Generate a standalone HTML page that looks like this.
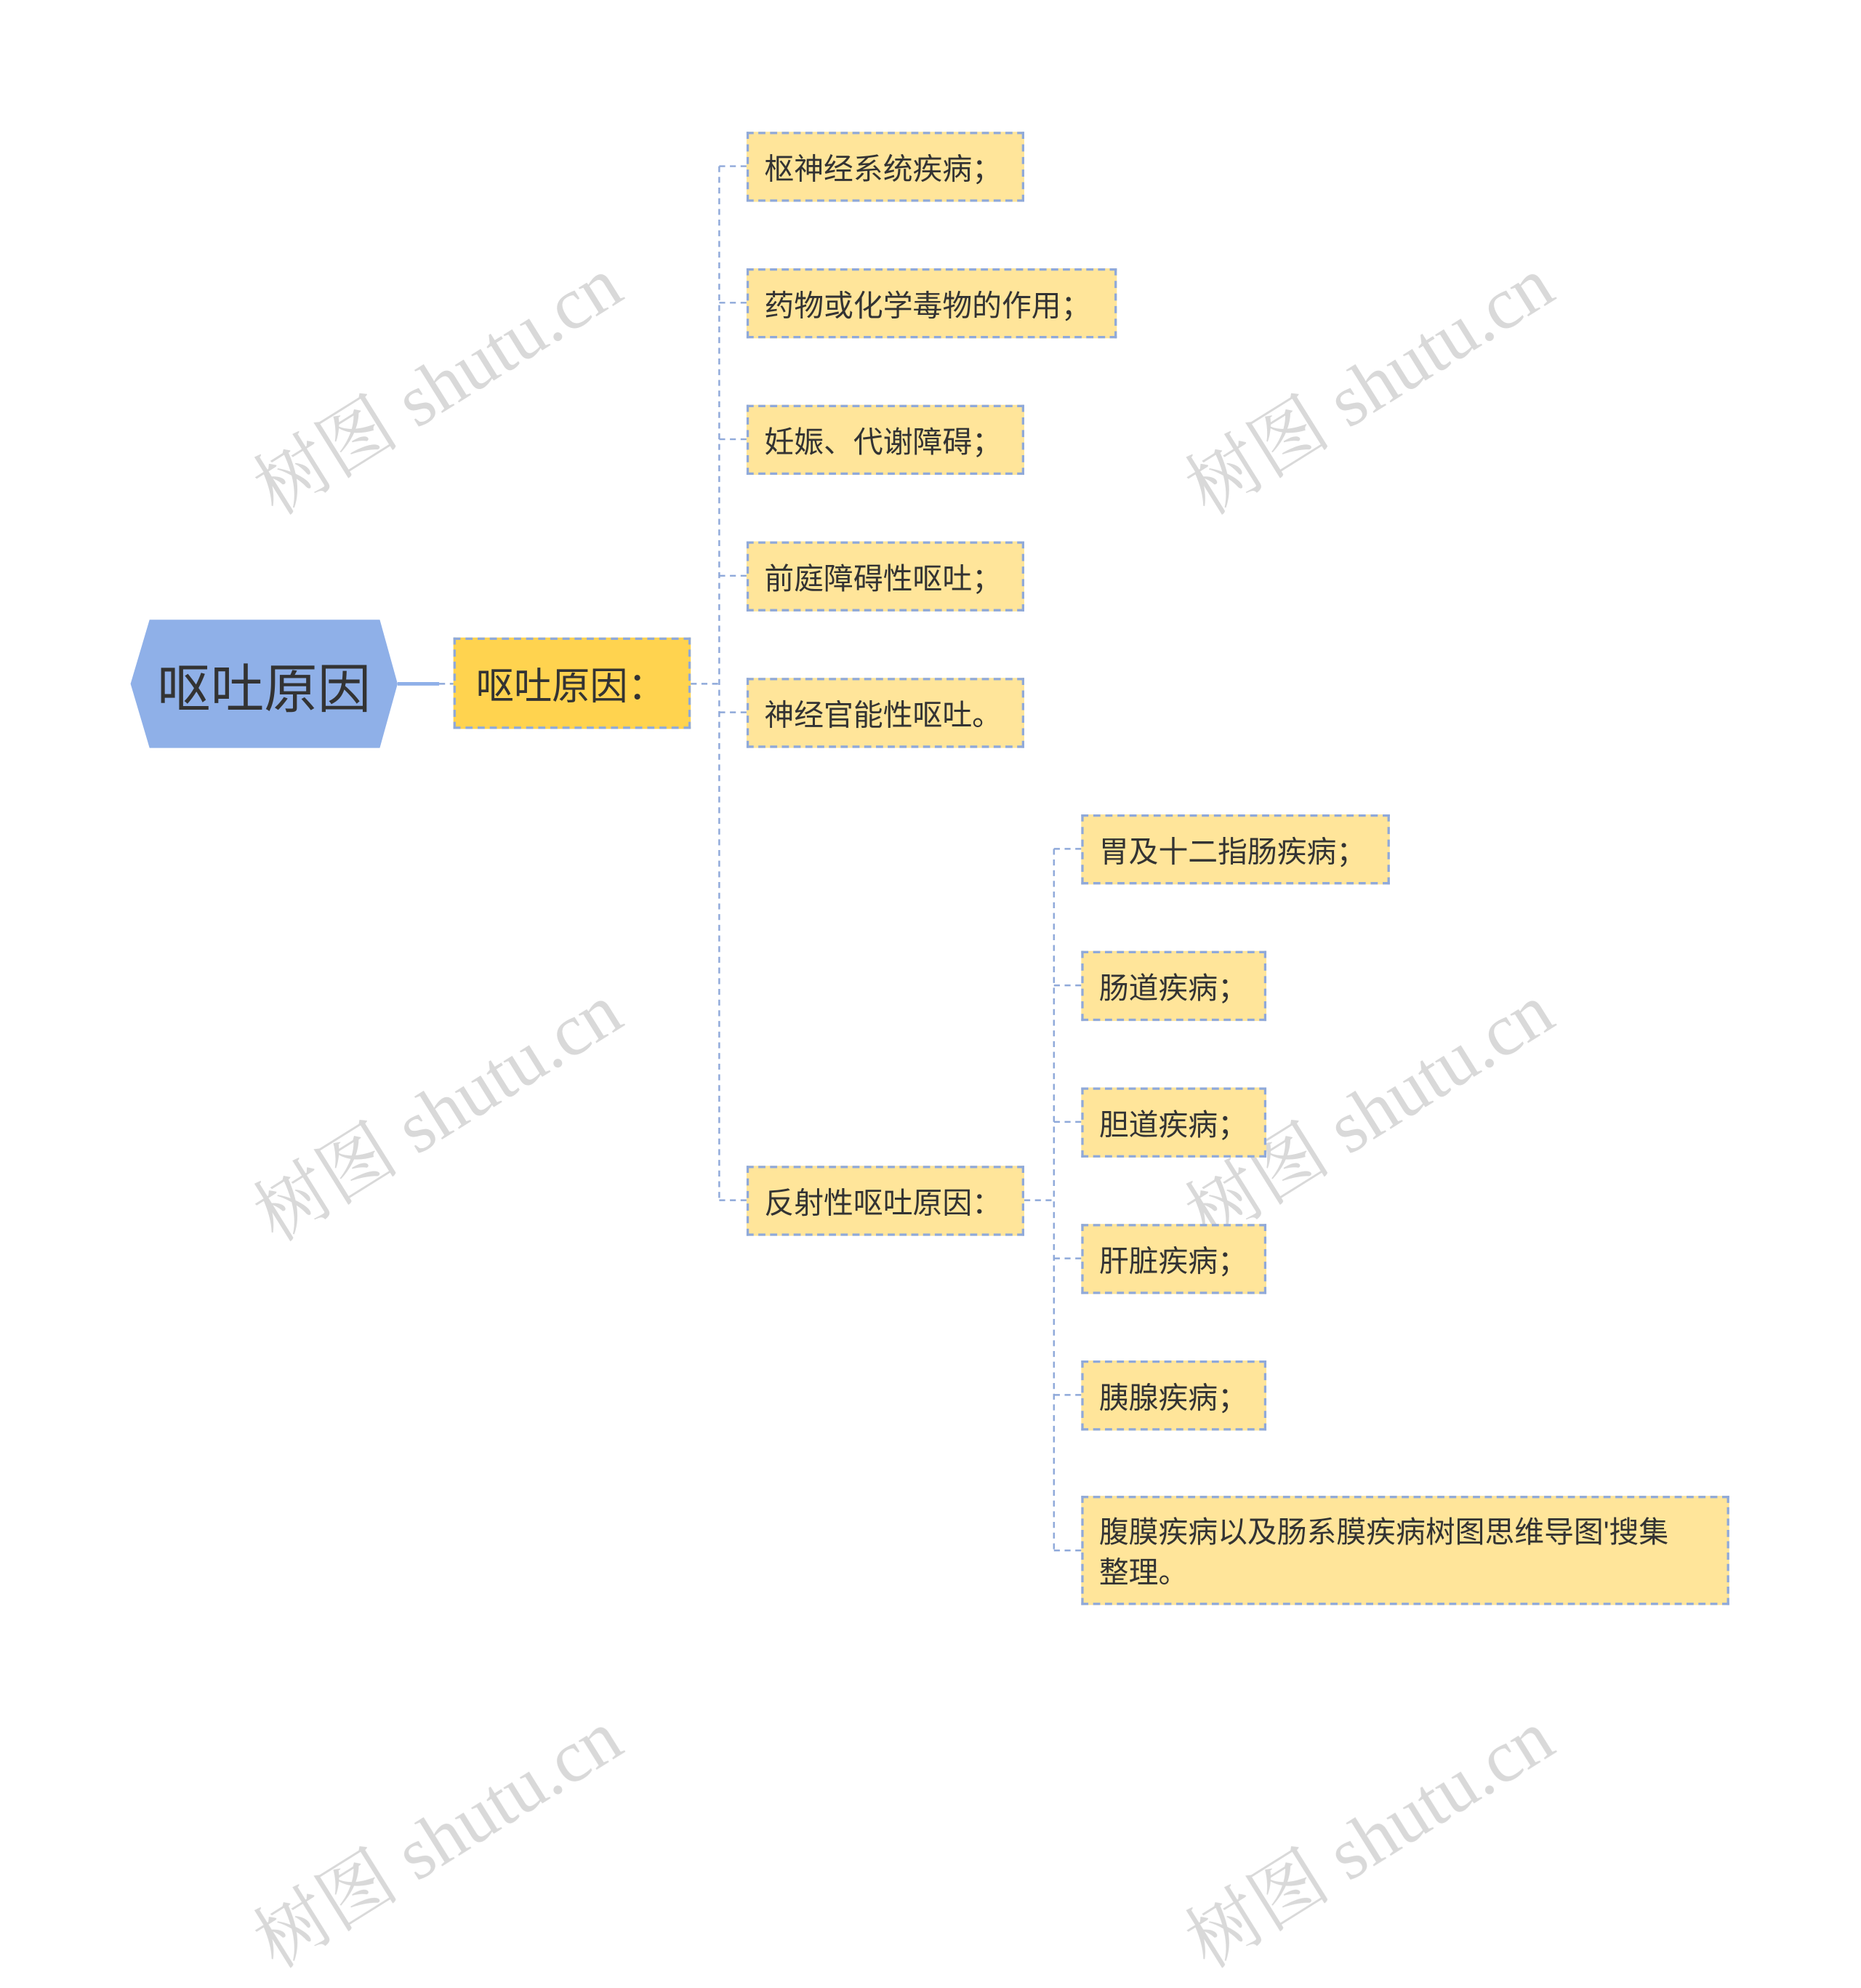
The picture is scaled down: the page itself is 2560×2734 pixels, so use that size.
<!DOCTYPE html>
<html><head><meta charset="utf-8"><style>
html,body{margin:0;padding:0;background:#fff;}
body{width:2560px;height:2391px;overflow:hidden;position:relative;}
#s{position:absolute;left:0;top:0;width:1568px;height:1464px;transform:scale(1.63265);transform-origin:0 0;font-family:"Liberation Sans","Noto Sans CJK SC",sans-serif;}
.n{position:absolute;box-sizing:border-box;background:#ffe59a;border:2px dashed #8fa9da;color:#333;font-size:25px;padding-left:13px;padding-top:4px;display:flex;align-items:center;line-height:34px;}
.wm{position:absolute;color:#d9d9d9;font-size:62px;font-family:"Liberation Serif","Noto Serif CJK SC",serif;transform:rotate(-32deg);transform-origin:0 0;white-space:nowrap;}
</style></head><body><div id="s">
<div class="wm" style="left:195px;top:375px">树图 shutu.cn</div>
<div class="wm" style="left:980px;top:375px">树图 shutu.cn</div>
<div class="wm" style="left:195px;top:987px">树图 shutu.cn</div>
<div class="wm" style="left:980px;top:987px">树图 shutu.cn</div>
<div class="wm" style="left:195px;top:1599px">树图 shutu.cn</div>
<div class="wm" style="left:980px;top:1599px">树图 shutu.cn</div>

<svg style="position:absolute;left:0;top:0" width="1568" height="1464">
<polygon points="126,522 320,522 335,576 320,630 126,630 110,576" fill="#8fb0e8"/>
<line x1="335" y1="576" x2="370" y2="576" stroke="#8fb0e8" stroke-width="3"/>
<line x1="370" y1="576" x2="382" y2="576" stroke="#8fa9da" stroke-width="1.5" stroke-dasharray="5,4"/>
<g stroke="#8fa9da" stroke-width="1.5" stroke-dasharray="5,4" fill="none">
<line x1="582" y1="576" x2="606" y2="576"/>
<line x1="606" y1="140" x2="606" y2="1011"/>
<line x1="606" y1="140" x2="629" y2="140"/>
<line x1="606" y1="255" x2="629" y2="255"/>
<line x1="606" y1="370" x2="629" y2="370"/>
<line x1="606" y1="485" x2="629" y2="485"/>
<line x1="606" y1="600" x2="629" y2="600"/>
<line x1="606" y1="1011" x2="629" y2="1011"/>
<line x1="863" y1="1011" x2="888" y2="1011"/>
<line x1="888" y1="715" x2="888" y2="1306"/>
<line x1="888" y1="715" x2="911" y2="715"/>
<line x1="888" y1="830" x2="911" y2="830"/>
<line x1="888" y1="945" x2="911" y2="945"/>
<line x1="888" y1="1060" x2="911" y2="1060"/>
<line x1="888" y1="1175" x2="911" y2="1175"/>
<line x1="888" y1="1306" x2="911" y2="1306"/>
</g>
</svg>
<div style="position:absolute;left:110px;top:522px;width:225px;height:108px;display:flex;align-items:center;justify-content:center;font-size:45px;color:#333;">呕吐原因</div>
<div class="n" style="left:382px;top:537px;width:200px;height:77px;background:#ffd34f;font-size:32px;padding-left:17px;">呕吐原因：</div>
<div class="n" style="left:629px;top:111px;width:234px;height:59px;">枢神经系统疾病；</div>
<div class="n" style="left:629px;top:226px;width:312px;height:59px;">药物或化学毒物的作用；</div>
<div class="n" style="left:629px;top:341px;width:234px;height:59px;">妊娠、代谢障碍；</div>
<div class="n" style="left:629px;top:456px;width:234px;height:59px;">前庭障碍性呕吐；</div>
<div class="n" style="left:629px;top:571px;width:234px;height:59px;">神经官能性呕吐。</div>
<div class="n" style="left:629px;top:982px;width:234px;height:59px;">反射性呕吐原因：</div>
<div class="n" style="left:911px;top:686px;width:260px;height:59px;">胃及十二指肠疾病；</div>
<div class="n" style="left:911px;top:801px;width:156px;height:59px;">肠道疾病；</div>
<div class="n" style="left:911px;top:916px;width:156px;height:59px;">胆道疾病；</div>
<div class="n" style="left:911px;top:1031px;width:156px;height:59px;">肝脏疾病；</div>
<div class="n" style="left:911px;top:1146px;width:156px;height:59px;">胰腺疾病；</div>
<div class="n" style="left:911px;top:1260px;width:546px;height:92px;">腹膜疾病以及肠系膜疾病树图思维导图'搜集<br>整理。</div>
</div></body></html>
